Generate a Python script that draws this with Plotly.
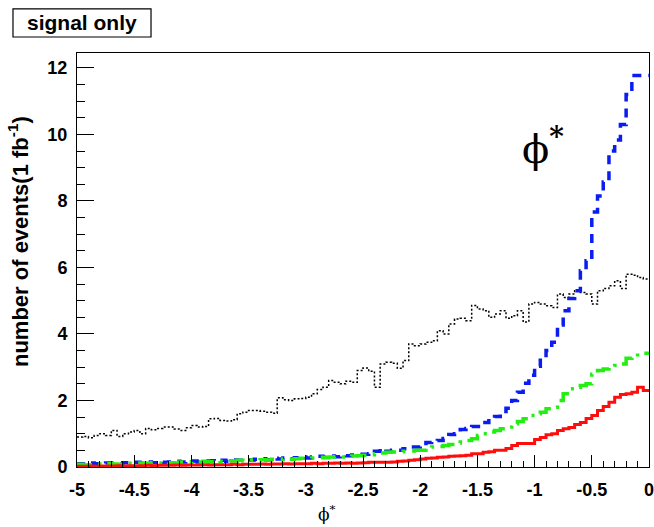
import plotly.graph_objects as go

# ---------------- data ----------------
x_min = -5.0
bin_width = 0.05
n_bins = 100

black_dotted = [
    0.90, 0.92, 0.88, 0.95, 1.00, 0.95, 1.10, 0.92, 1.00, 1.05,
    1.10, 1.00, 1.16, 1.12, 1.16, 1.20, 1.20, 1.14, 1.10, 1.18,
    1.25, 1.20, 1.22, 1.45, 1.46, 1.40, 1.38, 1.42, 1.60, 1.65,
    1.70, 1.70, 1.68, 1.65, 1.62, 2.08, 2.02, 2.00, 2.05, 2.06,
    2.10, 2.20, 2.33, 2.40, 2.60, 2.55, 2.50, 2.58, 2.55, 2.90,
    2.98, 2.88, 2.40, 3.10, 3.15, 3.12, 2.97, 3.20, 3.70, 3.65,
    3.70, 3.75, 3.80, 4.10, 4.00, 4.30, 4.45, 4.47, 4.40, 4.86,
    4.75, 4.70, 4.50, 4.60, 4.70, 4.47, 4.55, 4.70, 4.36, 4.90,
    4.95, 4.90, 4.85, 4.80, 5.20, 5.10, 5.20, 5.30, 5.25, 5.20,
    4.90, 5.30, 5.37, 5.45, 5.60, 5.37, 5.80, 5.77, 5.70, 5.65,
]

blue_dashed = [
    0.10, 0.08, 0.12, 0.10, 0.09, 0.12, 0.11, 0.10, 0.13, 0.12,
    0.14, 0.12, 0.15, 0.13, 0.16, 0.14, 0.15, 0.17, 0.15, 0.16,
    0.18, 0.15, 0.17, 0.19, 0.18, 0.20, 0.17, 0.21, 0.20, 0.22,
    0.21, 0.23, 0.25, 0.22, 0.26, 0.24, 0.27, 0.25, 0.28, 0.30,
    0.27, 0.30, 0.32, 0.29, 0.33, 0.31, 0.35, 0.34, 0.36, 0.38,
    0.38, 0.40, 0.47, 0.55, 0.47, 0.50, 0.50, 0.55, 0.60, 0.60,
    0.62, 0.74, 0.77, 0.80, 0.86, 0.98, 1.00, 1.13, 1.16, 1.22,
    1.22, 1.34, 1.46, 1.52, 1.67, 1.77, 2.00, 2.25, 2.52, 2.76,
    3.03, 3.27, 3.50, 3.75, 4.27, 4.70, 5.07, 5.30, 5.90, 6.20,
    7.67, 8.15, 8.57, 9.50, 9.83, 10.30, 11.20, 11.77, 11.77, 11.77,
]

green_dashdot = [
    0.08, 0.06, 0.07, 0.09, 0.08, 0.10, 0.09, 0.08, 0.10, 0.11,
    0.10, 0.12, 0.11, 0.13, 0.12, 0.14, 0.13, 0.12, 0.15, 0.14,
    0.16, 0.15, 0.17, 0.16, 0.18, 0.17, 0.19, 0.18, 0.20, 0.19,
    0.21, 0.20, 0.22, 0.21, 0.23, 0.22, 0.24, 0.23, 0.25, 0.26,
    0.26, 0.27, 0.29, 0.28, 0.30, 0.31, 0.30, 0.32, 0.33, 0.34,
    0.35, 0.37, 0.40, 0.42, 0.44, 0.45, 0.46, 0.47, 0.48, 0.50,
    0.50, 0.55, 0.60, 0.62, 0.65, 0.68, 0.72, 0.75, 0.80, 0.85,
    0.95, 1.00, 1.05, 1.10, 1.15, 1.20, 1.30, 1.37, 1.45, 1.55,
    1.60, 1.65, 1.75, 1.80, 2.00, 2.20, 2.35, 2.40, 2.45, 2.50,
    2.79, 2.90, 2.95, 3.00, 3.05, 3.10, 3.27, 3.30, 3.42, 3.42,
]

red_solid = [
    0.02, 0.02, 0.03, 0.02, 0.03, 0.03, 0.03, 0.04, 0.03, 0.04,
    0.04, 0.04, 0.05, 0.04, 0.05, 0.05, 0.05, 0.06, 0.05, 0.06,
    0.06, 0.06, 0.07, 0.06, 0.07, 0.07, 0.07, 0.08, 0.07, 0.08,
    0.08, 0.08, 0.09, 0.08, 0.09, 0.09, 0.10, 0.09, 0.10, 0.10,
    0.10, 0.11, 0.10, 0.11, 0.11, 0.12, 0.11, 0.12, 0.11, 0.12,
    0.13, 0.14, 0.14, 0.14, 0.14, 0.15, 0.17, 0.18, 0.20, 0.22,
    0.24, 0.26, 0.27, 0.29, 0.30, 0.32, 0.33, 0.34, 0.35, 0.40,
    0.40, 0.44, 0.46, 0.50, 0.50, 0.56, 0.65, 0.71, 0.71, 0.71,
    0.83, 0.89, 0.97, 1.00, 1.10, 1.15, 1.19, 1.28, 1.34, 1.46,
    1.55, 1.70, 1.82, 1.95, 2.10, 2.18, 2.20, 2.25, 2.40, 2.30,
]

x_ticks = [-5, -4.5, -4, -3.5, -3, -2.5, -2, -1.5, -1, -0.5, 0]
x_tick_labels = ["-5", "-4.5", "-4", "-3.5", "-3", "-2.5", "-2", "-1.5", "-1", "-0.5", "0"]
y_ticks = [0, 2, 4, 6, 8, 10, 12]
y_tick_labels = ["0", "2", "4", "6", "8", "10", "12"]

# bin edges
edges = [x_min + bin_width * i for i in range(n_bins + 1)]


def step(vals):
    return edges, list(vals) + [vals[-1]]


fig = go.Figure()

series = [
    (black_dotted, dict(color="black", width=1.5, dash="2px,2px")),
    (blue_dashed, dict(color="#0a1cf0", width=3.5, dash="9px,7px")),
    (green_dashdot, dict(color="#22ee11", width=3.5, dash="16px,7px,3px,7px")),
    (red_solid, dict(color="#ff0d0d", width=3)),
]
for vals, ln in series:
    xs, ys = step(vals)
    fig.add_trace(go.Scatter(x=xs, y=ys, mode="lines", line=dict(shape="hv", **ln),
                             showlegend=False, hoverinfo="skip"))

tick_font = dict(family="Liberation Sans, Arial, sans-serif", size=18, color="black")

fig.update_layout(
    width=654, height=527,
    margin=dict(l=77, r=5, t=53, b=60, autoexpand=False),
    paper_bgcolor="white", plot_bgcolor="white",
    font=dict(family="Liberation Sans, Arial, sans-serif", color="black"),
    xaxis=dict(
        range=[-5, 0], showgrid=False, zeroline=False,
        showline=True, linecolor="black", linewidth=1, mirror=True,
        ticks="inside", ticklen=12, tickwidth=1, tickcolor="black",
        tickvals=x_ticks, ticktext=[f"<b>{t}</b>" for t in x_tick_labels],
        tickfont=tick_font, ticklabelstandoff=6, automargin=False,
        ticklabeloverflow="allow",
        minor=dict(ticks="inside", dtick=0.1, ticklen=6, tickcolor="black", showgrid=False),
    ),
    yaxis=dict(
        range=[0, 12.45], showgrid=False, zeroline=False,
        showline=True, linecolor="black", linewidth=1, mirror=True,
        ticks="inside", ticklen=17, tickwidth=1, tickcolor="black",
        tickvals=y_ticks, ticktext=[f"<b>{t}</b>" for t in y_tick_labels],
        tickfont=tick_font, ticklabelstandoff=5, automargin=False,
        ticklabeloverflow="allow",
        minor=dict(ticks="inside", dtick=0.5, ticklen=8, tickcolor="black", showgrid=False),
    ),
)

# y-axis title
fig.add_annotation(
    text="<b>number of events(1 fb<sup>-1</sup>)</b>",
    xref="paper", yref="paper", x=-0.102, y=0.545, textangle=-90,
    showarrow=False, font=dict(size=22, family="Liberation Sans, Arial, sans-serif"),
    xanchor="center", yanchor="middle",
)
# x-axis title
fig.add_annotation(
    text="ϕ<sup>*</sup>",
    xref="paper", yref="paper", x=0.437, y=-0.112,
    showarrow=False, font=dict(size=17, family="DejaVu Serif, Liberation Serif, serif"),
    xanchor="center", yanchor="middle",
)
# big phi* label
fig.add_annotation(
    text="ϕ<b><sup>*</sup></b>",
    xref="x", yref="y", x=-0.93, y=9.65,
    showarrow=False, font=dict(size=40, family="DejaVu Serif, Liberation Serif, serif"),
    xanchor="center", yanchor="middle",
)
# "signal only" box
fig.add_shape(type="rect", xref="paper", yref="paper",
              x0=-0.1119, x1=0.1294, y0=1.0387, y1=1.1064,
              line=dict(color="black", width=1.2), fillcolor="white")
fig.add_annotation(
    text="<b>signal only</b>",
    xref="paper", yref="paper", x=0.0087, y=1.0725,
    showarrow=False, font=dict(size=21, family="Liberation Sans, Arial, sans-serif"),
    xanchor="center", yanchor="middle",
)

fig.write_html(
    "out.html",
    config={"displayModeBar": False},
    post_script="document.body.style.margin='0';document.body.style.overflow='hidden';",
)
